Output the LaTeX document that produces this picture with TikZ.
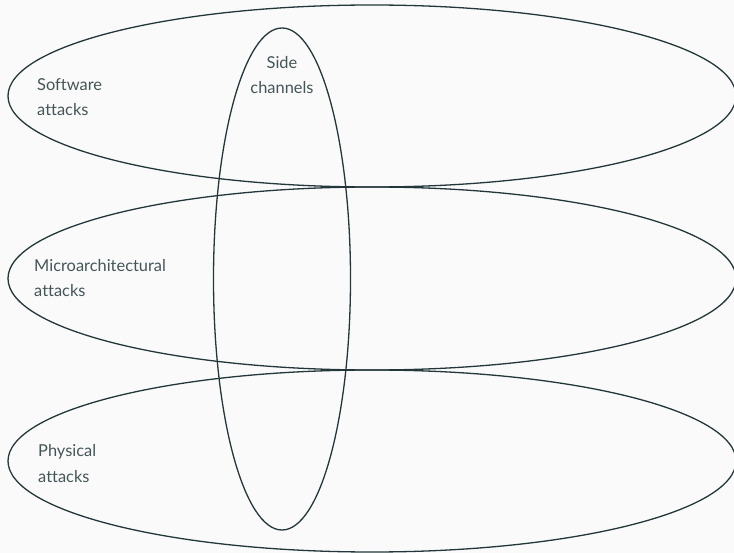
\documentclass[tikz,border=0pt]{standalone}
\usepackage{fontspec}
\setmainfont{Lato}[Ligatures={NoCommon,NoContextual}]
\usetikzlibrary{shapes.geometric}
\definecolor{fg}{HTML}{23373B}
\definecolor{bg}{HTML}{FAFAFA}
\tikzset{
  set/.style={draw=fg, line width=1.3pt, ellipse, inner sep=0pt},
  lbl/.style={anchor=base west, align=left, inner sep=0pt, text=fg!85,
    font=\fontsize{16.4}{25}\selectfont},
}
\begin{document}
\begin{tikzpicture}[x=1pt,y=-1pt]
\fill[bg] (0,0) rectangle (734,553);
\useasboundingbox (0,0) rectangle (734,553);
\node[set, minimum width=728pt, minimum height=182pt] (sw) at (372,96) {};
\node[set, minimum width=728pt, minimum height=183pt] (ma) at (372,278.5) {};
\node[set, minimum width=728pt, minimum height=182pt] (ph) at (372,461) {};
\node[set, minimum width=137pt, minimum height=502pt] (sc) at (282,279) {};
\node[lbl] (tsw) at (37,116) {Software\\attacks};
\node[lbl] (tma) at (34,297) {Microarchitectural\\attacks};
\node[lbl] (tph) at (38,482) {Physical\\attacks};
\node[lbl, anchor=base, align=center] (tsc) at (282,94) {Side\\channels};
\end{tikzpicture}
\end{document}
